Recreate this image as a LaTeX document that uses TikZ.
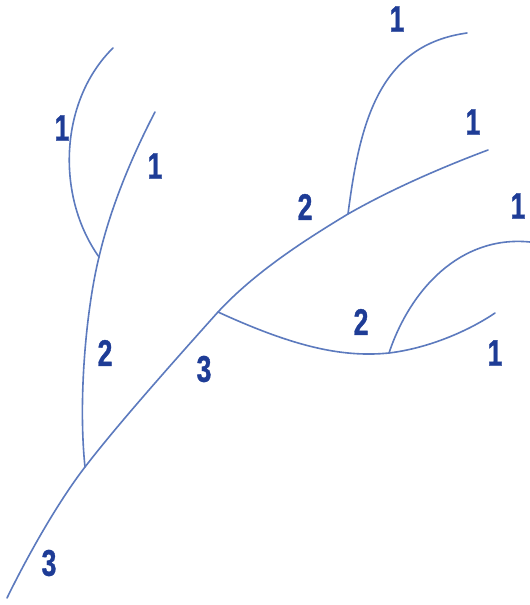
\documentclass[tikz,border=0pt]{standalone}
\usepackage{fontspec}
\setmainfont{Liberation Sans}
\newfontfamily\lblfont[FakeBold=1.2]{Liberation Sans Bold}
\definecolor{stream}{RGB}{92,122,190}
\definecolor{lbl}{RGB}{30,60,150}
\begin{document}
\begin{tikzpicture}[x=1pt,y=-1pt,
  river/.style={draw=stream,line width=1.6pt,line cap=round,line join=round},
  order/.style={text=lbl,font=\fontsize{37}{37}\lblfont,inner sep=0pt}]
\useasboundingbox[fill=white] (0,0) rectangle (530,605);
\coordinate (j1) at (85,467);
\coordinate (j2) at (218,312);
\coordinate (j3) at (348,214);
\coordinate (j4) at (99,257);
\coordinate (j5) at (389,353);
\coordinate (s0) at (7,598);
\coordinate (s1) at (488,150);
\coordinate (t1) at (113,48);
\coordinate (t2) at (155,112);
\coordinate (t3) at (467,33);
\coordinate (t4) at (495,313);
\coordinate (t5) at (530,242);
% main stem
\draw[river] (s0) .. controls (28,555) and (58,502) .. (j1)
  .. controls (118,424) and (175,360) .. (j2)
  .. controls (255,272) and (305,240) .. (j3)
  .. controls (390,190) and (440,168) .. (s1);
% left order-2 and its order-1 sources
\draw[river] (j1) .. controls (78,400) and (86,310) .. (j4);
\draw[river] (j4) .. controls (55,195) and (60,100) .. (t1);
\draw[river] (j4) .. controls (110,210) and (130,160) .. (t2);
% upper right source
\draw[river] (j3) .. controls (360,120) and (380,45) .. (t3);
% lower right order-2 and its sources
\draw[river] (j2) .. controls (290,345) and (340,358) .. (j5)
  .. controls (430,348) and (470,330) .. (t4);
\draw[river] (j5) .. controls (410,290) and (460,235) .. (t5);
% labels
\node[order] (a) at (62,128) {\scalebox{0.72}[1]{1}};
\node[order] (b) at (155,166) {\scalebox{0.72}[1]{1}};
\node[order] (c) at (105,353) {\scalebox{0.72}[1]{2}};
\node[order] (d) at (204,369) {\scalebox{0.72}[1]{3}};
\node[order] (e) at (49,563) {\scalebox{0.72}[1]{3}};
\node[order] (f) at (397,19) {\scalebox{0.72}[1]{1}};
\node[order] (g) at (473,122) {\scalebox{0.72}[1]{1}};
\node[order] (h) at (305,207) {\scalebox{0.72}[1]{2}};
\node[order] (i) at (518,206) {\scalebox{0.72}[1]{1}};
\node[order] (k) at (361,322) {\scalebox{0.72}[1]{2}};
\node[order] (l) at (495,353) {\scalebox{0.72}[1]{1}};
\end{tikzpicture}
\end{document}
